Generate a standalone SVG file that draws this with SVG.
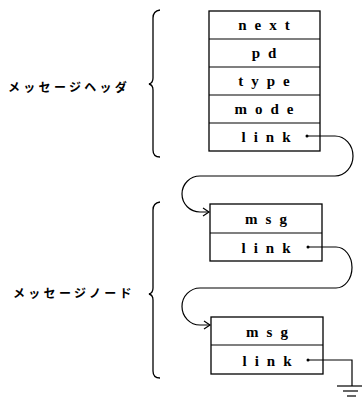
<svg xmlns="http://www.w3.org/2000/svg" width="362" height="397" viewBox="0 0 362 397">
<style>
.box{fill:#fff;stroke:#000;stroke-width:1.3}
.f{font-family:"Liberation Serif","DejaVu Serif",serif;font-weight:bold;font-size:15px;letter-spacing:8px;text-anchor:middle}
.jp{font-family:"Noto Sans CJK JP",sans-serif;font-weight:bold;font-size:12px;letter-spacing:3.3px}
.ln{fill:none;stroke:#000;stroke-width:1.2}
.br{fill:none;stroke:#000;stroke-width:1.3}
</style>
<defs>
<marker id="ah" markerWidth="10" markerHeight="10" refX="8" refY="5" orient="auto" markerUnits="userSpaceOnUse">
<path d="M2,1 L8,5 L2,9" fill="none" stroke="#000" stroke-width="1.2"/>
</marker>
</defs>
<g id="header">
<rect class="box" x="209" y="11" width="111" height="140"/>
<line class="ln" x1="209" y1="39" x2="320" y2="39"/>
<line class="ln" x1="209" y1="67" x2="320" y2="67"/>
<line class="ln" x1="209" y1="95" x2="320" y2="95"/>
<line class="ln" x1="209" y1="123" x2="320" y2="123"/>
<text class="f" x="268" y="30">next</text>
<text class="f" x="268" y="58">pd</text>
<text class="f" x="268" y="86">type</text>
<text class="f" x="268" y="114">mode</text>
<text class="f" x="270" y="142">link</text>
<circle cx="307" cy="136" r="1.5"/>
</g>
<g id="node1">
<rect class="box" x="210" y="204" width="112" height="57"/>
<line class="ln" x1="210" y1="233" x2="322" y2="233"/>
<text class="f" x="270" y="224">msg</text>
<text class="f" x="270" y="253">link</text>
<circle cx="308" cy="247" r="1.5"/>
</g>
<g id="node2">
<rect class="box" x="211" y="317" width="112" height="57"/>
<line class="ln" x1="211" y1="345" x2="323" y2="345"/>
<text class="f" x="271" y="337">msg</text>
<text class="f" x="271" y="366">link</text>
<circle cx="308" cy="360" r="1.5"/>
</g>
<g id="labels">
<text class="jp" x="8" y="92">メッセージヘッダ</text>
<text class="jp" x="13" y="298">メッセージノード</text>
<path class="br" d="M160,10 Q153,11 153,18 L153,78 Q153,83 149,84 Q153,85 153,90 L153,150 Q153,157 160,157"/>
<path class="br" d="M160,202 Q153,203 153,210 L153,288 Q153,293 149,294 Q153,295 153,300 L153,371 Q153,378 160,378"/>
</g>
<g id="connectors">
<path class="ln" marker-end="url(#ah)" d="M307,136 L335,136 A18,20 0 0 1 335,176 L200,176 A18,18 0 0 0 200,212 L209,212"/>
<path class="ln" marker-end="url(#ah)" d="M308,247 L336,247 A16,20.5 0 0 1 336,288 L200,288 A18,18.5 0 0 0 200,325 L210,325"/>
<path class="ln" d="M308,360 L352,360 L352,386"/>
<line class="ln" x1="337" y1="386" x2="362" y2="386"/>
<line class="ln" x1="343" y1="391" x2="358" y2="391"/>
<line class="ln" x1="347" y1="396" x2="356" y2="396"/>
</g>
</svg>
